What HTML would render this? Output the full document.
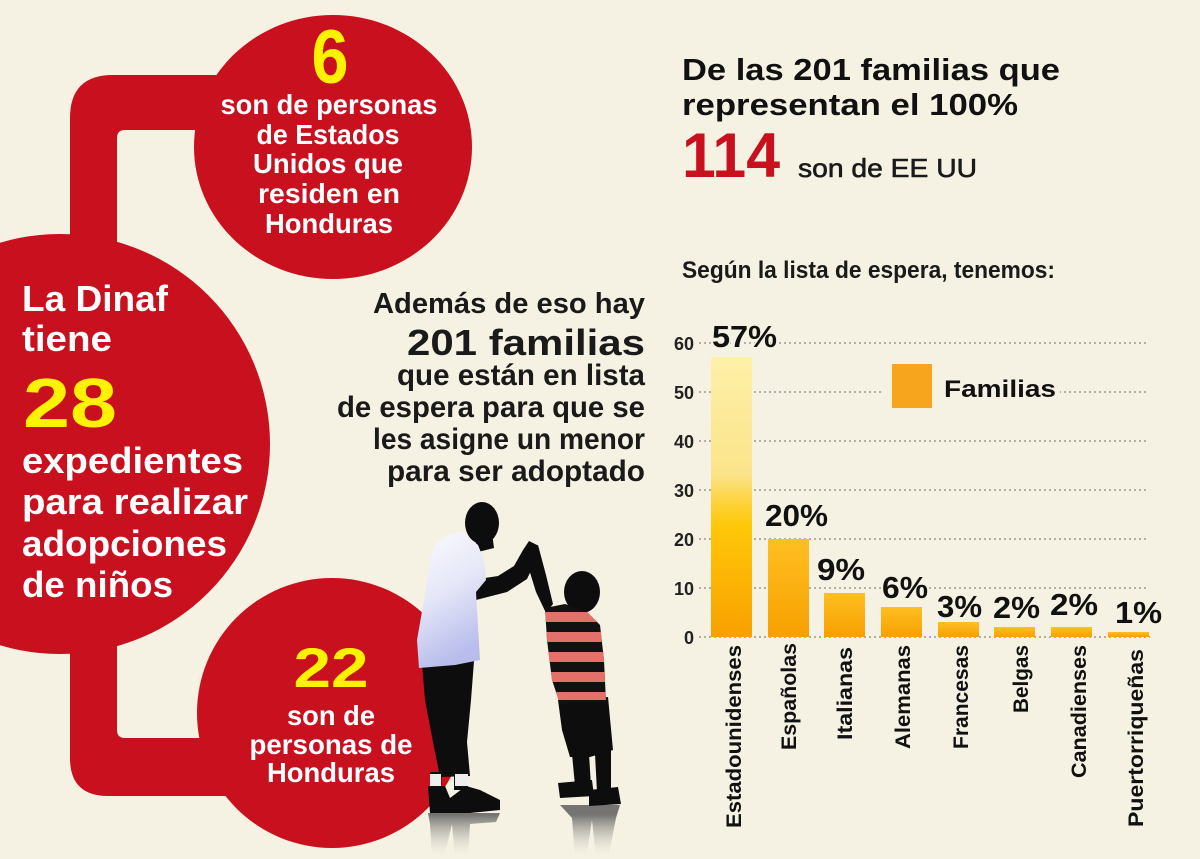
<!DOCTYPE html>
<html><head><meta charset="utf-8"><style>
html,body{margin:0;padding:0;background:#f5f2e3;}
svg{display:block;}
text{font-family:"Liberation Sans",sans-serif;}
</style></head><body>
<svg width="1200" height="859" viewBox="0 0 1200 859" xmlns="http://www.w3.org/2000/svg">
<defs>
<linearGradient id="gb1" x1="0" y1="0" x2="0" y2="1">
<stop offset="0" stop-color="#fdf0a8"/><stop offset="0.42" stop-color="#fce48a"/>
<stop offset="0.52" stop-color="#fdd23a"/><stop offset="0.6" stop-color="#ffc80a"/>
<stop offset="1" stop-color="#f8a000"/></linearGradient>
<linearGradient id="gb2" x1="0" y1="0" x2="0" y2="1">
<stop offset="0" stop-color="#ffbf22"/><stop offset="1" stop-color="#f7a000"/></linearGradient>
<linearGradient id="shirt" x1="0" y1="0" x2="0.3" y2="1">
<stop offset="0" stop-color="#fbfbfe"/><stop offset="0.5" stop-color="#e6e7f8"/><stop offset="1" stop-color="#b8bdec"/></linearGradient>
<linearGradient id="refl" x1="0" y1="815" x2="0" y2="859" gradientUnits="userSpaceOnUse">
<stop offset="0" stop-color="#555" stop-opacity="0.8"/><stop offset="1" stop-color="#f5f2e3" stop-opacity="0"/></linearGradient>
<clipPath id="bshirt"><path d="M545 608 L565 604 L586 611 L600 625 L604 660 L606 702 L560 704 L552 680 L547 640 Z"/></clipPath>
</defs>
<rect width="1200" height="859" fill="#f5f2e3"/>

<!-- red shapes -->
<g fill="#c8101f">
<circle cx="60" cy="444" r="210"/>
<path d="M70 300 L70 118 Q70 75 113 75 L235 75 L235 130 L125 130 Q117 130 117 138 L117 300 Z"/>
<ellipse cx="333" cy="147" rx="139" ry="132"/>
<path d="M70 600 L70 758 Q70 796 108 796 L235 796 L235 738 L125 738 Q117 738 117 730 L117 600 Z"/>
<circle cx="332" cy="713" r="135"/>
</g>

<!-- top circle text -->
<g font-weight="bold" text-anchor="middle" fill="#fff">
<text x="330" y="83" font-size="76" fill="#fff200" textLength="37" lengthAdjust="spacingAndGlyphs">6</text>
<text x="329" y="114" font-size="28" textLength="217" lengthAdjust="spacingAndGlyphs">son de personas</text>
<text x="328" y="144" font-size="28" textLength="143" lengthAdjust="spacingAndGlyphs">de Estados</text>
<text x="328" y="173" font-size="28" textLength="150" lengthAdjust="spacingAndGlyphs">Unidos que</text>
<text x="329" y="203" font-size="28" textLength="142" lengthAdjust="spacingAndGlyphs">residen en</text>
<text x="329" y="233" font-size="28" textLength="128" lengthAdjust="spacingAndGlyphs">Honduras</text>
</g>

<!-- big circle text -->
<g font-weight="bold" fill="#fff">
<text x="22" y="311" font-size="36" textLength="146" lengthAdjust="spacingAndGlyphs">La Dinaf</text>
<text x="22" y="351" font-size="36" textLength="90" lengthAdjust="spacingAndGlyphs">tiene</text>
<text x="23" y="427" font-size="70" fill="#fff200" textLength="94" lengthAdjust="spacingAndGlyphs">28</text>
<text x="22" y="473" font-size="36" textLength="221" lengthAdjust="spacingAndGlyphs">expedientes</text>
<text x="22" y="514" font-size="36" textLength="226" lengthAdjust="spacingAndGlyphs">para realizar</text>
<text x="22" y="556" font-size="36" textLength="205" lengthAdjust="spacingAndGlyphs">adopciones</text>
<text x="22" y="597" font-size="36" textLength="151" lengthAdjust="spacingAndGlyphs">de niños</text>
</g>

<!-- bottom circle text -->
<g font-weight="bold" text-anchor="middle" fill="#fff">
<text x="331" y="687" font-size="56" fill="#fff200" textLength="75" lengthAdjust="spacingAndGlyphs">22</text>
<text x="331" y="725" font-size="28" textLength="88" lengthAdjust="spacingAndGlyphs">son de</text>
<text x="331" y="754" font-size="28" textLength="163" lengthAdjust="spacingAndGlyphs">personas de</text>
<text x="331" y="782" font-size="28" textLength="128" lengthAdjust="spacingAndGlyphs">Honduras</text>
</g>

<!-- middle block -->
<g font-weight="bold" text-anchor="end" fill="#1a1a1a">
<text x="645" y="313" font-size="29" textLength="272" lengthAdjust="spacingAndGlyphs">Además de eso hay</text>
<text x="645" y="355" font-size="36" textLength="238" lengthAdjust="spacingAndGlyphs">201 familias</text>
<text x="645" y="385" font-size="30" textLength="248" lengthAdjust="spacingAndGlyphs">que están en lista</text>
<text x="645" y="417" font-size="30" textLength="308" lengthAdjust="spacingAndGlyphs">de espera para que se</text>
<text x="645" y="449" font-size="30" textLength="272" lengthAdjust="spacingAndGlyphs">les asigne un menor</text>
<text x="645" y="481" font-size="30" textLength="258" lengthAdjust="spacingAndGlyphs">para ser adoptado</text>
</g>

<!-- top right -->
<g fill="#111">
<text x="682" y="80" font-size="31" font-weight="bold" textLength="378" lengthAdjust="spacingAndGlyphs">De las 201 familias que</text>
<text x="682" y="115" font-size="31" font-weight="bold" textLength="336" lengthAdjust="spacingAndGlyphs">representan el 100%</text>
<text x="682" y="177" font-size="63" font-weight="bold" fill="#c8101f" textLength="98" lengthAdjust="spacingAndGlyphs">114</text>
<text x="798" y="177" font-size="26" fill="#1a1a1a" stroke="#1a1a1a" stroke-width="0.6" textLength="179" lengthAdjust="spacingAndGlyphs">son de EE UU</text>
<text x="682" y="278" font-size="24" font-weight="bold" fill="#1a1a1a" textLength="373" lengthAdjust="spacingAndGlyphs">Según la lista de espera, tenemos:</text>
</g>

<!-- chart gridlines -->
<g stroke="#aaa59a" stroke-width="1.8" stroke-dasharray="2 3">
<line x1="699" y1="343" x2="1146" y2="343"/>
<line x1="699" y1="392" x2="1146" y2="392"/>
<line x1="699" y1="441" x2="1146" y2="441"/>
<line x1="699" y1="490" x2="1146" y2="490"/>
<line x1="699" y1="539" x2="1146" y2="539"/>
<line x1="699" y1="588" x2="1146" y2="588"/>
<line x1="699" y1="637" x2="1150" y2="637"/>
</g>
<!-- y labels -->
<g font-size="18" font-weight="bold" fill="#222" text-anchor="end">
<text x="694" y="350">60</text>
<text x="694" y="399">50</text>
<text x="694" y="448">40</text>
<text x="694" y="497">30</text>
<text x="694" y="546">20</text>
<text x="694" y="595">10</text>
<text x="694" y="644">0</text>
</g>
<!-- bars -->
<rect x="711" y="357" width="41" height="280" fill="url(#gb1)"/>
<rect x="768" y="539" width="41" height="98" fill="url(#gb2)"/>
<rect x="824" y="593" width="41" height="44" fill="url(#gb2)"/>
<rect x="881" y="607" width="41" height="30" fill="url(#gb2)"/>
<rect x="938" y="622" width="41" height="15" fill="url(#gb2)"/>
<rect x="994" y="627" width="41" height="10" fill="url(#gb2)"/>
<rect x="1051" y="627" width="41" height="10" fill="url(#gb2)"/>
<rect x="1108" y="632" width="41" height="5" fill="url(#gb2)"/>
<!-- legend -->
<rect x="884" y="384" width="176" height="16" fill="#f5f2e3"/>
<rect x="892" y="364" width="40" height="44" fill="#f7a51d"/>
<text x="944" y="397" font-size="24" font-weight="bold" fill="#111" textLength="112" lengthAdjust="spacingAndGlyphs">Familias</text>
<!-- percent labels -->
<g font-size="31" font-weight="bold" fill="#111" stroke="#f5f2e3" stroke-width="3" paint-order="stroke">
<text x="712" y="347" textLength="65" lengthAdjust="spacingAndGlyphs">57%</text>
<text x="765" y="526" textLength="63" lengthAdjust="spacingAndGlyphs">20%</text>
<text x="817" y="580" textLength="48" lengthAdjust="spacingAndGlyphs">9%</text>
<text x="882" y="598" textLength="46" lengthAdjust="spacingAndGlyphs">6%</text>
<text x="937" y="617" textLength="45" lengthAdjust="spacingAndGlyphs">3%</text>
<text x="993" y="618" textLength="47" lengthAdjust="spacingAndGlyphs">2%</text>
<text x="1050" y="615" textLength="48" lengthAdjust="spacingAndGlyphs">2%</text>
<text x="1115" y="623" textLength="47" lengthAdjust="spacingAndGlyphs">1%</text>
</g>
<!-- x labels -->
<g font-size="21" font-weight="bold" fill="#111" text-anchor="end">
<text transform="translate(741,645) rotate(-90)" textLength="183" lengthAdjust="spacingAndGlyphs">Estadounidenses</text>
<text transform="translate(796,643) rotate(-90)" textLength="107" lengthAdjust="spacingAndGlyphs">Españolas</text>
<text transform="translate(852,647) rotate(-90)" textLength="93" lengthAdjust="spacingAndGlyphs">Italianas</text>
<text transform="translate(910,645) rotate(-90)" textLength="104" lengthAdjust="spacingAndGlyphs">Alemanas</text>
<text transform="translate(968,645) rotate(-90)" textLength="104" lengthAdjust="spacingAndGlyphs">Francesas</text>
<text transform="translate(1028,645) rotate(-90)" textLength="68" lengthAdjust="spacingAndGlyphs">Belgas</text>
<text transform="translate(1086,645) rotate(-90)" textLength="133" lengthAdjust="spacingAndGlyphs">Canadienses</text>
<text transform="translate(1143,649) rotate(-90)" textLength="178" lengthAdjust="spacingAndGlyphs">Puertorriqueñas</text>
</g>

<!-- silhouettes: reflections -->
<g fill="url(#refl)">
<path d="M428 813 L500 813 L496 822 L470 824 L468 859 L455 859 L452 824 L444 859 L432 859 L430 824 Z"/>
<path d="M560 805 L620 805 L616 818 L608 859 L596 859 L592 820 L586 859 L575 859 L572 818 Z"/>
</g>
<!-- man -->
<g fill="#0d0d0d">
<ellipse cx="482" cy="523" rx="17" ry="21"/>
<path d="M474 535 L492 533 L494 548 L478 552 Z"/>
<path d="M472 580 L498 576 L514 566 L523 550 L529 541 L537 545 L536 560 L527 579 L507 592 L476 600 Z"/>
<path d="M422 664 L474 661 L471 700 L467 742 L470 776 L440 777 L433 742 L425 700 Z"/>
<path d="M430 772 L442 772 L441 790 L430 790 Z"/>
<path d="M454 772 L468 772 L468 790 L454 790 Z"/>
<path d="M428 786 L445 786 L450 798 L466 786 L480 790 L500 800 L500 810 L470 813 L430 813 Z"/>
</g>
<g fill="#eeeeee"><rect x="430" y="774" width="11" height="12"/><rect x="455" y="774" width="13" height="12"/></g>
<path d="M447 535 L462 532 L478 545 L484 560 L486 580 L476 592 L480 660 L455 665 L419 668 L417 640 L424 600 L430 560 L435 545 Z" fill="url(#shirt)"/>
<!-- boy -->
<g fill="#0d0d0d">
<ellipse cx="582" cy="592" rx="18" ry="21"/>
<path d="M530 548 L538 545 L546 575 L553 604 L546 613 L536 592 L528 566 Z"/>
<path d="M558 700 L608 697 L613 750 L590 757 L570 757 L562 730 Z"/>
<path d="M572 754 L589 754 L591 786 L575 786 Z"/>
<path d="M595 754 L611 750 L611 792 L597 792 Z"/>
<path d="M558 783 L592 780 L594 796 L560 798 Z"/>
<path d="M589 790 L618 787 L621 804 L589 806 Z"/>
</g>
<g clip-path="url(#bshirt)">
<rect x="540" y="600" width="70" height="110" fill="#111"/>
<rect x="540" y="612" width="70" height="10" fill="#e4706a"/>
<rect x="540" y="632" width="70" height="10" fill="#e4706a"/>
<rect x="540" y="652" width="70" height="10" fill="#e4706a"/>
<rect x="540" y="672" width="70" height="10" fill="#e4706a"/>
<rect x="540" y="692" width="70" height="8" fill="#e4706a"/>
</g>
</svg>
</body></html>
